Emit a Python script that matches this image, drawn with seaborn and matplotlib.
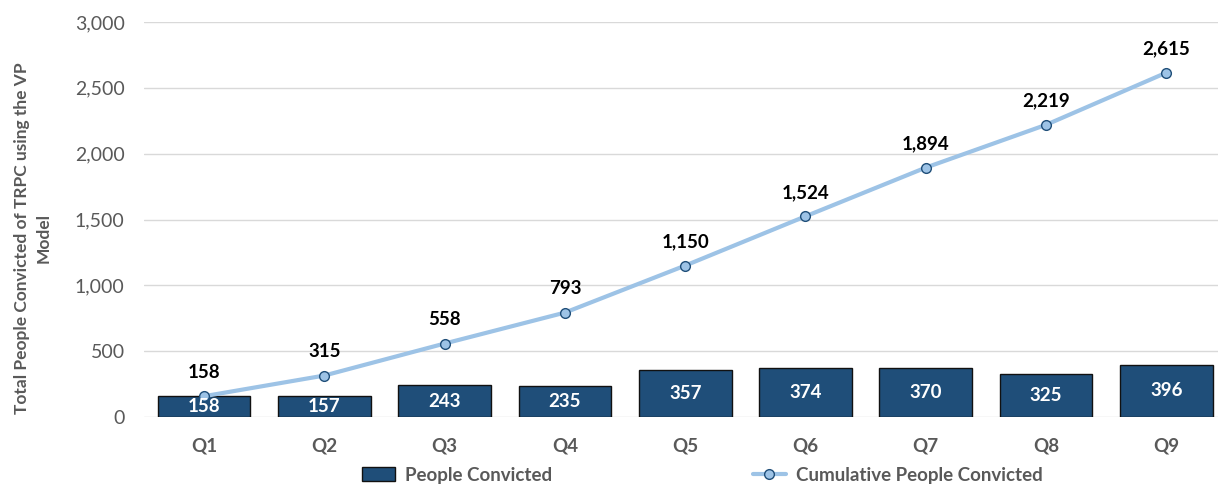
import numpy as np
import pandas as pd
import matplotlib
matplotlib.use("Agg")
import matplotlib.pyplot as plt
import seaborn as sns
from matplotlib.patches import Patch
from matplotlib.lines import Line2D

quarters = ["Q1", "Q2", "Q3", "Q4", "Q5", "Q6", "Q7", "Q8", "Q9"]
people_convicted = [158, 157, 243, 235, 357, 374, 370, 325, 396]
cumulative_convicted = [158, 315, 558, 793, 1150, 1524, 1894, 2219, 2615]
y_ticks = [0, 500, 1000, 1500, 2000, 2500, 3000]

sns.set_theme(style="white")
plt.rcParams['font.family'] = ['Lato', 'DejaVu Sans']

BAR = "#1F4E79"
LINE = "#9DC3E6"
GRAY = "#595959"

df = pd.DataFrame({"Quarter": quarters, "People": people_convicted,
                   "Cumulative": cumulative_convicted})

fig = plt.figure(figsize=(12.18, 4.87), dpi=100)
ax = fig.add_axes([144/1218, 1-417/487, 1-144/1218, (417-22)/487])

sns.barplot(data=df, x="Quarter", y="People", color=BAR, width=0.77,
            edgecolor="#111111", linewidth=1.0, saturation=1, ax=ax, zorder=2)
sns.pointplot(data=df, x="Quarter", y="Cumulative", color=LINE, markers="o",
              markersize=7, linewidth=3, markeredgecolor=BAR, markeredgewidth=1.0,
              ax=ax, zorder=3)

ax.set_xlim(-0.5, 8.43)
ax.set_ylim(0, 3000)
ax.set_yticks(y_ticks)
ax.set_yticklabels([f"{v:,}" for v in y_ticks], color=GRAY, fontsize=14)
ax.tick_params(axis="x", colors=GRAY, labelsize=13.5, length=0, pad=15)
for lab in ax.get_xticklabels():
    lab.set_fontweight("bold")
ax.tick_params(axis="y", length=0, pad=14)
ax.grid(axis="y", color="#D9D9D9", linewidth=1, zorder=0)
ax.set_axisbelow(True)
for s in ax.spines.values():
    s.set_visible(False)
ax.set_xlabel("")
ax.set_ylabel("")

# bar labels (centered, white)
for i, v in enumerate(people_convicted):
    ax.text(i, v / 2, f"{v:,}", ha="center", va="center", color="white",
            fontsize=13.5, fontweight="bold", zorder=5)
# cumulative labels above
for i, v in enumerate(cumulative_convicted):
    ax.annotate(f"{v:,}", (i, v), xytext=(0, 17), textcoords="offset points",
                ha="center", va="center", color="black", fontsize=13.5,
                fontweight="bold", zorder=5)

fig.text(33/1218, 1-238/487, "Total People Convicted of TRPC using the VP\nModel",
         rotation=90, ha="center", va="center", color=GRAY, fontsize=12.5,
         fontweight="bold", linespacing=1.4)

handles = [Patch(facecolor=BAR, edgecolor="#111111", linewidth=1.0),
           Line2D([0], [0], color=LINE, linewidth=3, marker="o", markersize=7,
                  markerfacecolor=LINE, markeredgecolor=BAR)]
leg = fig.legend(handles, ["People Convicted", "Cumulative People Convicted"],
                 loc="center", bbox_to_anchor=(702/1218, 1-475/487), ncol=2,
                 frameon=False, columnspacing=10.7, handlelength=1.8,
                 handletextpad=0.5, prop={"size": 13.5, "weight": "bold"})
for t in leg.get_texts():
    t.set_color(GRAY)

fig.savefig("out.png", dpi=100)
